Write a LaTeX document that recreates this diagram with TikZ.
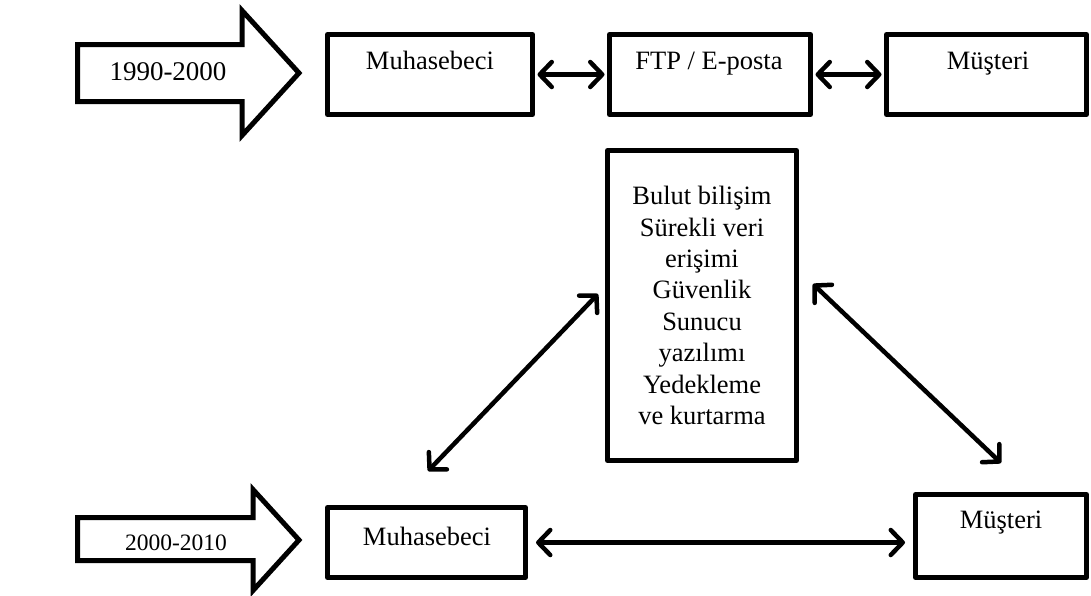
\documentclass[tikz,border=0pt]{standalone}
\usepackage{fontspec}
\setmainfont{Liberation Serif}
\usetikzlibrary{arrows.meta}
\begin{document}
\begin{tikzpicture}[x=1pt,y=-1pt,
  box/.style={draw, line width=5pt, line join=round, fill=white, inner sep=0pt},
  lbl/.style={font=\fontsize{26.5}{31.5}\selectfont, anchor=base, inner sep=0pt},
  tip/.tip={Straight Barb[length=12pt,width=25pt,line join=round,line cap=round]},
  biarrow/.style={line width=4.5pt, line cap=round, tip-tip},
  blockarrow/.style={draw, line width=5pt, line join=miter, fill=white}]
\useasboundingbox (0,0) rectangle (1091,595);
\fill[white] (0,0) rectangle (1091,595);

% block arrows
\draw[blockarrow] (77.5,44.5) -- (242,44.5) -- (242,10.5) -- (299,73) -- (242,135.5) -- (242,101.5) -- (77.5,101.5) -- cycle;
\node[lbl, font=\fontsize{27}{32}\selectfont] (p1) at (168,80) {1990-2000};
\draw[blockarrow] (77.5,517.5) -- (253,517.5) -- (253,489.5) -- (299,540) -- (253,590.5) -- (253,560.5) -- (77.5,560.5) -- cycle;
\node[lbl, font=\fontsize{23.5}{28}\selectfont] (p2) at (176,550) {2000-2010};

% top row
\node[box, minimum width=205pt, minimum height=80pt] (m1) at (430,74.5) {};
\node[lbl] (m1t) at (430,69) {Muhasebeci};
\node[box, minimum width=201pt, minimum height=80pt] (ftp) at (710,74.5) {};
\node[lbl] (ftpt) at (709,69) {FTP / E-posta};
\node[box, minimum width=200pt, minimum height=80pt] (c1) at (986.5,74.5) {};
\node[lbl] (c1t) at (988,69) {Müşteri};

\draw[biarrow, shorten <=2.5pt, shorten >=2.5pt] (m1.east) -- (ftp.west);
\draw[biarrow, shorten <=2.5pt, shorten >=2.5pt] (ftp.east) -- (c1.west);

% middle box
\node[box, minimum width=189pt, minimum height=310pt, align=center,
  font=\fontsize{26.5}{31.4}\selectfont] (mid) at (702,305.5)
  {Bulut bilişim\\Sürekli veri\\erişimi\\Güvenlik\\Sunucu\\yazılımı\\Yedekleme\\ve kurtarma};

% bottom row
\node[box, minimum width=198pt, minimum height=70pt] (m2) at (426.5,542.5) {};
\node[lbl] (m2t) at (427,545) {Muhasebeci};
\node[box, minimum width=171pt, minimum height=83pt] (c2) at (1001,536) {};
\node[lbl] (c2t) at (1001,528) {Müşteri};

\draw[biarrow, shorten <=8pt, shorten >=8pt] (m2.east) -- (m2.east -| c2.west);

% diagonal connectors
\coordinate (la) at (428,471);
\coordinate (lb) at (598,294);
\coordinate (ra) at (813,284);
\coordinate (rb) at (1001,463);
\draw[biarrow] (la) -- (lb);
\draw[biarrow] (ra) -- (rb);
\end{tikzpicture}
\end{document}
